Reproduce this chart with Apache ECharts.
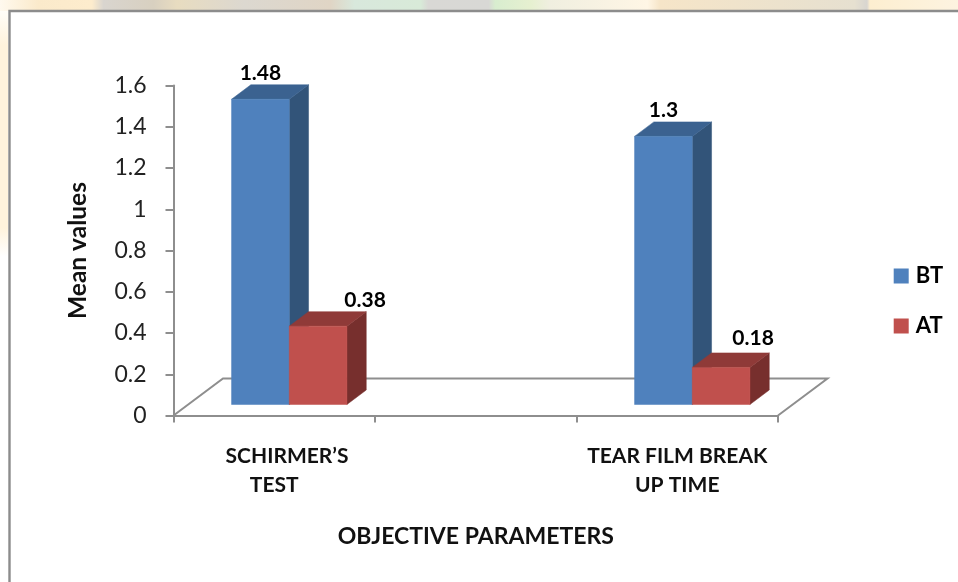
<!DOCTYPE html>
<html>
<head>
<meta charset="utf-8">
<style>html,body{margin:0;padding:0;background:#fff}#chart{width:958px;height:582px}</style>
<script src="https://cdn.jsdelivr.net/npm/echarts@6/dist/echarts.min.js"></script>
</head>
<body>
<div id="chart"></div>
<script>
// Mean values before and after treatment
const categories = ['     SCHIRMER’S\nTEST', '', 'TEAR FILM BREAK\nUP TIME'];
const seriesNames = ['BT', 'AT'];
const btValues = [1.48, null, 1.3];
const atValues = [0.38, null, 0.18];
const yTicks = { min: 0, max: 1.6, step: 0.2 };

// Pseudo-3D geometry, in pixels
const FONT = 'Lato, Carlito, sans-serif';
const BAR_W = 57.7, DEPTH_X = 19.3, DEPTH_Y = 14.5;
const FRONT_X = 15, FRONT_Y = 11;
const FLOOR_X = 49.5, FLOOR_Y = 37;
const AXIS_GRAY = '#8e8e8e';

const faces = {
  BT: { front: '#4f81bd', top: '#3b6290', side: '#325479' },
  AT: { front: '#c0504d', top: '#8f3a38', side: '#772f2d' }
};
// Data labels sit over the bar's front face, except where Excel nudged them aside
const labelNudge = { BT: [[0, -26], null, [0, -26]], AT: [[47, -26], null, [32, -29]] };

function barItem(name, slot) {
  return function (params, api) {
    const cat = api.value(0), val = api.value(1);
    const base = api.coord([cat, 0]);
    const tip = api.coord([cat, val]);
    const x0 = base[0] + FRONT_X + (slot - 1) * BAR_W, x1 = x0 + BAR_W;
    const yb = base[1] - FRONT_Y, yt = tip[1] - FRONT_Y;
    const c = faces[name];
    const poly = (pts, fill) => ({
      type: 'polygon', shape: { points: pts },
      style: { fill: fill, stroke: fill, lineWidth: 0.5 }
    });
    const nudge = labelNudge[name][cat];
    return {
      type: 'group',
      children: [
        poly([[x1, yb], [x1 + DEPTH_X, yb - DEPTH_Y], [x1 + DEPTH_X, yt - DEPTH_Y], [x1, yt]], c.side),
        poly([[x0, yt], [x0 + DEPTH_X, yt - DEPTH_Y], [x1 + DEPTH_X, yt - DEPTH_Y], [x1, yt]], c.top),
        poly([[x0, yb], [x1, yb], [x1, yt], [x0, yt]], c.front),
        {
          type: 'text',
          style: {
            x: (x0 + x1) / 2 + nudge[0], y: yt + nudge[1], text: String(val),
            textAlign: 'center', textVerticalAlign: 'middle',
            fontFamily: FONT, fontSize: 21, fontWeight: 'bold', fill: '#000'
          }
        }
      ]
    };
  };
}

function floorItem(params, api) {
  const left = api.coord([0, 0]);
  const g = params.coordSys;
  const xL = g.x, xR = g.x + g.width, y = left[1];
  return {
    type: 'polyline',
    shape: { points: [[xL, y], [xL + FLOOR_X, y - FLOOR_Y], [xR + FLOOR_X, y - FLOOR_Y], [xR, y]] },
    style: { fill: 'none', stroke: AXIS_GRAY, lineWidth: 2 }
  };
}

const toPoints = vals => vals
  .map((v, i) => [i, v])
  .filter(p => p[1] !== null);

const stops = list => list.map(s => ({ offset: s[0], color: s[1] }));

const chart = echarts.init(document.getElementById('chart'), null, { renderer: 'canvas' });
chart.setOption({
  animation: false,
  backgroundColor: '#fff',
  graphic: [
    {
      type: 'rect', silent: true, z: 0,
      shape: { x: 0, y: 0, width: 958, height: 11 },
      style: {
        fill: new echarts.graphic.LinearGradient(0, 0, 1, 0, stops([
          [0, '#fff9ee'], [0.04, '#fbeacb'], [0.096, '#fdeccd'], [0.108, '#d9d5cf'],
          [0.16, '#d8d0c0'], [0.185, '#e8dcc0'], [0.255, '#dcd8d0'], [0.345, '#e0d5c5'],
          [0.37, '#d8e8dc'], [0.439, '#d8ead8'], [0.447, '#d9d8d5'], [0.51, '#d8d8d5'],
          [0.517, '#d8edcf'], [0.554, '#e6f0d0'], [0.574, '#f0efe0'], [0.676, '#fff6e5'],
          [0.689, '#f6e5c8'], [0.892, '#e6e0d0'], [0.905, '#d8d5d0'], [0.908, '#fdeed0'], [1, '#fdf3e0']
        ]))
      }
    },
    {
      type: 'rect', silent: true, z: 0,
      shape: { x: 0, y: 11, width: 8, height: 571 },
      style: {
        fill: new echarts.graphic.LinearGradient(0, 0, 0, 1, stops([
          [0, '#fffdf8'], [0.06, '#fff3dc'], [0.38, '#fff3dc'], [0.43, '#ffffff'], [1, '#ffffff']
        ]))
      }
    },
    {
      type: 'rect', silent: true, z: 1,
      shape: { x: 9.5, y: 11, width: 960, height: 580 },
      style: { fill: 'none', stroke: '#8c8c8c', lineWidth: 2.4 }
    }
  ],
  grid: { left: 173.5, right: 180, top: 85.5, height: 330 },
  legend: {
    orient: 'vertical', left: 893.7, top: 265, padding: 0,
    icon: 'rect', itemWidth: 15, itemHeight: 15, itemGap: 28,
    data: seriesNames,
    textStyle: { fontFamily: FONT, fontSize: 22, fontWeight: 'bold', color: '#000', padding: [0, 0, 0, 2] }
  },
  xAxis: {
    type: 'category',
    data: categories,
    boundaryGap: true,
    name: 'OBJECTIVE PARAMETERS',
    nameLocation: 'middle',
    nameGap: 110,
    nameTextStyle: { fontFamily: FONT, fontSize: 23, fontWeight: 'bold', color: '#111' },
    axisLine: { lineStyle: { color: AXIS_GRAY, width: 2 } },
    axisTick: { show: true, alignWithLabel: false, length: 7, lineStyle: { color: AXIS_GRAY, width: 2 } },
    axisLabel: {
      interval: 0, margin: 26, lineHeight: 29,
      fontFamily: FONT, fontSize: 21, fontWeight: 'bold', color: '#111'
    }
  },
  yAxis: {
    type: 'value',
    min: yTicks.min, max: yTicks.max, interval: yTicks.step,
    name: 'Mean values',
    nameLocation: 'middle',
    nameGap: 83,
    nameTextStyle: { fontFamily: FONT, fontSize: 24.5, fontWeight: 'bold', color: '#111' },
    splitLine: { show: false },
    axisLine: { show: true, lineStyle: { color: AXIS_GRAY, width: 2 } },
    axisTick: { show: true, length: 8, lineStyle: { color: AXIS_GRAY, width: 2 } },
    axisLabel: { margin: 27, fontFamily: FONT, fontSize: 23, color: '#222' }
  },
  series: [
    {
      type: 'custom', name: 'floor', silent: true, z: 1, clip: false,
      renderItem: floorItem, data: [[0, 0]], encode: { x: 0, y: 1 }
    },
    {
      type: 'custom', name: seriesNames[0], z: 2, clip: false,
      itemStyle: { color: faces.BT.front },
      renderItem: barItem('BT', 0), data: toPoints(btValues), encode: { x: 0, y: 1 }
    },
    {
      type: 'custom', name: seriesNames[1], z: 3, clip: false,
      itemStyle: { color: faces.AT.front },
      renderItem: barItem('AT', 1), data: toPoints(atValues), encode: { x: 0, y: 1 }
    }
  ]
});
</script>
</body>
</html>
